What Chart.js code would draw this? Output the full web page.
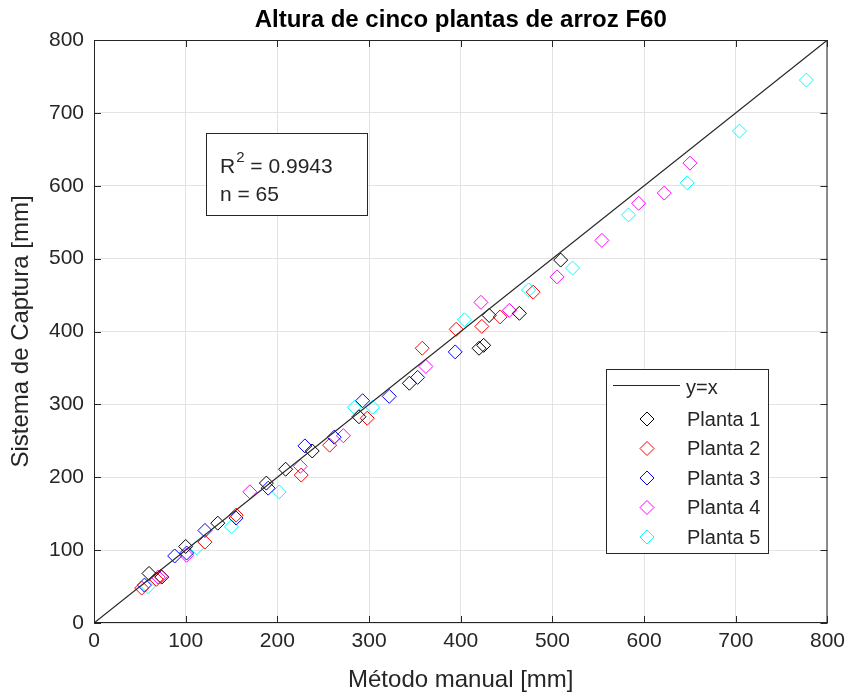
<!DOCTYPE html>
<html>
<head>
<meta charset="utf-8">
<script src="https://cdn.jsdelivr.net/npm/chart.js@4/dist/chart.umd.min.js"></script>
<style>
  html, body { margin: 0; padding: 0; background: #fff; }
  #wrap { width: 851px; height: 695px; }
</style>
</head>
<body>
<div id="wrap"><canvas id="alturaChart" width="851" height="695"></canvas></div>
<script>
// Mediciones: método manual (x) vs sistema de captura (y), en mm
const planta1X = [60, 100, 135, 188, 209, 238, 289, 344, 420, 425, 431, 464, 509];
const planta1Y = [68, 105, 137, 192, 211, 236, 283, 329, 377, 381, 422, 425, 498];
const planta2X = [52, 68, 121, 155, 226, 257, 298, 358, 395, 423, 443, 479, 73];
const planta2Y = [48, 60, 111, 148, 203, 244, 281, 377, 403, 407, 420, 454, 64];
const planta3X = [55, 74, 88, 101, 121, 155, 190, 230, 262, 293, 322, 353, 394];
const planta3Y = [52, 63, 92, 96, 127, 144, 185, 243, 255, 305, 311, 337, 372];
const planta4X = [70, 101, 170, 225, 272, 362, 422, 453, 505, 554, 594, 622, 650];
const planta4Y = [63, 93, 180, 215, 257, 352, 440, 429, 475, 525, 576, 590, 631];
const planta5X = [59, 112, 150, 202, 284, 304, 404, 474, 522, 583, 647, 704, 777];
const planta5Y = [50, 103, 132, 180, 296, 296, 416, 457, 487, 560, 604, 675, 745];

const ticks = [0, 100, 200, 300, 400, 500, 600, 700, 800];
const r2 = '0.9943';
const n = 65;

const plantas = [
    { label: 'Planta 1', xs: planta1X, ys: planta1Y, color: '#000000' },
    { label: 'Planta 2', xs: planta2X, ys: planta2Y, color: '#ff0000' },
    { label: 'Planta 3', xs: planta3X, ys: planta3Y, color: '#0000ff' },
    { label: 'Planta 4', xs: planta4X, ys: planta4Y, color: '#ff00ff' },
    { label: 'Planta 5', xs: planta5X, ys: planta5Y, color: '#00ffff' }
];

const FONT = '"Liberation Sans", Arial, Helvetica, sans-serif';
const TXT = '#262626';

function toPoints(xs, ys) {
    return xs.map((x, i) => ({ x: x, y: ys[i] }));
}

const datasets = [{
    type: 'line',
    label: 'y=x',
    data: [{ x: 0, y: 0 }, { x: 800, y: 800 }],
    borderColor: TXT,
    borderWidth: 1.2,
    pointRadius: 0,
    fill: false
}].concat(plantas.map(p => ({
    type: 'scatter',
    label: p.label,
    data: toPoints(p.xs, p.ys),
    pointStyle: 'rectRot',
    pointRadius: 7,
    borderColor: p.color,
    backgroundColor: 'rgba(0,0,0,0)',
    borderWidth: 1
})));

// Marco, ticks hacia dentro, título, cuadro de R² y leyenda
const decoraciones = {
    id: 'decoraciones',
    afterDraw(chart) {
        const ctx = chart.ctx;
        const a = chart.chartArea;
        const xs = chart.scales.x, ys = chart.scales.y;
        ctx.save();

        // marco de los ejes
        ctx.strokeStyle = TXT;
        ctx.lineWidth = 1;
        ctx.strokeRect(a.left + 0.5, a.top + 0.5, a.right - a.left - 1, a.bottom - a.top - 1);

        // ticks
        const tl = 7;
        ctx.beginPath();
        ticks.forEach(t => {
            const px = Math.round(xs.getPixelForValue(t)) + 0.5;
            ctx.moveTo(px, a.bottom); ctx.lineTo(px, a.bottom - tl);
            ctx.moveTo(px, a.top); ctx.lineTo(px, a.top + tl);
            const py = Math.round(ys.getPixelForValue(t)) + 0.5;
            ctx.moveTo(a.left, py); ctx.lineTo(a.left + tl, py);
            ctx.moveTo(a.right, py); ctx.lineTo(a.right - tl, py);
        });
        ctx.stroke();

        // título
        ctx.fillStyle = '#000';
        ctx.font = 'bold 24px ' + FONT;
        ctx.textAlign = 'center';
        ctx.textBaseline = 'alphabetic';
        ctx.fillText('Altura de cinco plantas de arroz F60', (a.left + a.right) / 2, 27);

        // cuadro R² / n
        ctx.fillStyle = '#fff';
        ctx.fillRect(206, 133, 161, 82);
        ctx.strokeStyle = TXT;
        ctx.strokeRect(206.5, 133.5, 161, 82);
        ctx.fillStyle = TXT;
        ctx.textAlign = 'left';
        ctx.font = '21px ' + FONT;
        ctx.fillText('R', 220, 173);
        const wR = ctx.measureText('R').width;
        ctx.font = '15px ' + FONT;
        ctx.fillText('2', 220 + wR + 1, 162);
        const w2 = ctx.measureText('2').width;
        ctx.font = '21px ' + FONT;
        ctx.fillText(' = ' + r2, 220 + wR + w2 + 1, 173);
        ctx.fillText('n = ' + n, 220, 201);

        // leyenda
        const lx = 606, ly = 369, lw = 162, lh = 184;
        ctx.fillStyle = '#fff';
        ctx.fillRect(lx, ly, lw, lh);
        ctx.strokeStyle = TXT;
        ctx.strokeRect(lx + 0.5, ly + 0.5, lw, lh);
        ctx.font = '20px ' + FONT;
        ctx.textBaseline = 'middle';
        ctx.beginPath();
        ctx.moveTo(613, 385.5); ctx.lineTo(680, 385.5);
        ctx.lineWidth = 1.2;
        ctx.stroke();
        ctx.fillStyle = TXT;
        ctx.fillText('y=x', 686, 388);
        ctx.lineWidth = 1;
        plantas.forEach((p, i) => {
            const cy = 419 + i * 29.5;
            const cx = 647;
            ctx.strokeStyle = p.color;
            ctx.beginPath();
            ctx.moveTo(cx, cy - 7); ctx.lineTo(cx + 7, cy);
            ctx.lineTo(cx, cy + 7); ctx.lineTo(cx - 7, cy);
            ctx.closePath();
            ctx.stroke();
            ctx.fillStyle = TXT;
            ctx.fillText(p.label, 687, cy + 1);
        });
        ctx.restore();
    }
};

const ctx = document.getElementById('alturaChart').getContext('2d');
const alturaChart = new Chart(ctx, {
    type: 'scatter',
    data: { datasets: datasets },
    options: {
        responsive: false,
        animation: false,
        layout: { padding: { left: 0, right: 22, top: 40, bottom: 0 } },
        plugins: {
            legend: { display: false },
            tooltip: { enabled: false }
        },
        scales: {
            x: {
                type: 'linear',
                min: 0, max: 800,
                afterBuildTicks: s => { s.ticks = ticks.map(v => ({ value: v })); },
                afterFit: s => { s.height = 72; },
                grid: { color: '#e3e3e3', drawTicks: false },
                border: { display: false },
                ticks: { color: TXT, font: { family: FONT, size: 21 }, padding: 6, maxRotation: 0 },
                title: {
                    display: true,
                    text: 'Método manual [mm]',
                    color: TXT,
                    font: { family: FONT, size: 24 },
                    padding: { top: 2, bottom: 0 }
                }
            },
            y: {
                type: 'linear',
                min: 0, max: 800,
                afterBuildTicks: s => { s.ticks = ticks.map(v => ({ value: v })); },
                afterFit: s => { s.width = 94; },
                grid: { color: '#e3e3e3', drawTicks: false },
                border: { display: false },
                ticks: { color: TXT, font: { family: FONT, size: 21 }, padding: 10 },
                title: {
                    display: true,
                    text: 'Sistema de Captura [mm]',
                    color: TXT,
                    font: { family: FONT, size: 24 },
                    padding: { top: 7, bottom: 0 }
                }
            }
        }
    },
    plugins: [decoraciones]
});
</script>
</body>
</html>
